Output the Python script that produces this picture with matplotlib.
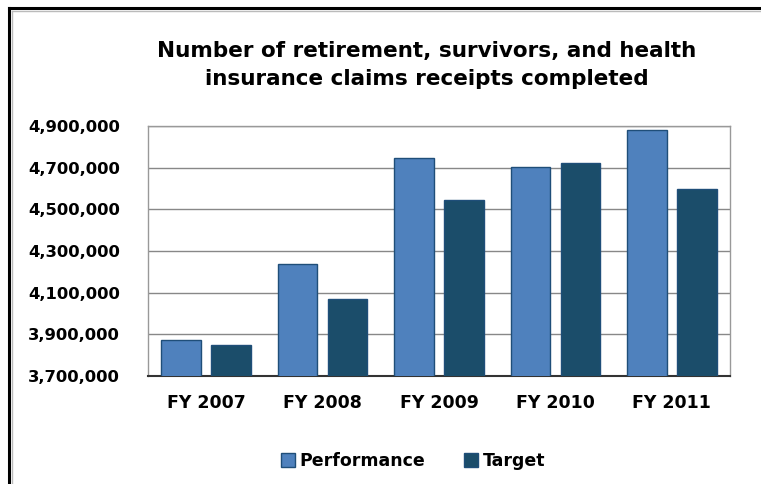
import matplotlib
matplotlib.use("Agg")
import matplotlib.pyplot as plt
import numpy as np
from matplotlib.ticker import FuncFormatter
from matplotlib.lines import Line2D

years = ["FY 2007", "FY 2008", "FY 2009", "FY 2010", "FY 2011"]
performance = [3873000, 4238000, 4745000, 4701000, 4881000]
target = [3849000, 4068000, 4545000, 4721000, 4596000]

perf_color = "#4F81BD"
target_color = "#1B4D6A"
edge = "#1F4E79"

plt.rcParams["font.family"] = ["DejaVu Sans"]

fig = plt.figure(figsize=(7.61, 4.84), dpi=100)
ax = fig.add_axes([148/761, 108/484, 582/761, 250/484])

x = np.arange(len(years))
w = 0.34
ax.bar(x - 0.215, performance, w, color=perf_color, edgecolor=edge, linewidth=1, label="Performance", zorder=3)
ax.bar(x + 0.215, target, w, color=target_color, edgecolor=edge, linewidth=1, label="Target", zorder=3)

ax.set_xlim(-0.5, len(years) - 0.5)
ax.set_ylim(3700000, 4900000)
ax.set_yticks(np.arange(3700000, 4900001, 200000))
ax.yaxis.set_major_formatter(FuncFormatter(lambda v, p: f"{int(v):,}"))
ax.set_xticks(x)
ax.set_xticklabels(years)
ax.tick_params(axis="x", length=0, labelsize=12.5)
ax.tick_params(axis="y", length=0, labelsize=11.8)
for lab in ax.get_xticklabels() + ax.get_yticklabels():
    lab.set_fontweight("bold")
ax.xaxis.set_tick_params(pad=13)
ax.yaxis.set_tick_params(pad=20)
ax.grid(axis="y", color="#888888", linewidth=1, zorder=0)

for s in ["top", "right", "left"]:
    ax.spines[s].set_color("#999999")
    ax.spines[s].set_linewidth(1)
ax.spines["bottom"].set_color("#333333")
ax.spines["bottom"].set_linewidth(1.5)

fig.text(427/761, 1 - 65/484, "Number of retirement, survivors, and health\ninsurance claims receipts completed",
         ha="center", va="center", fontsize=15.5, fontweight="heavy", linespacing=1.45)

leg = fig.legend(loc="center", bbox_to_anchor=(413/761, 1 - 461/484), ncol=2, frameon=False,
                 prop={"weight": "bold", "size": 12.5}, handlelength=0.8, handleheight=0.8,
                 handletextpad=0.3, columnspacing=2.2)

# outer frame lines (top and left)
fig.add_artist(Line2D([9/761, 1], [1 - 8/484, 1 - 8/484], color="black", linewidth=2.2, transform=fig.transFigure))
fig.add_artist(Line2D([9/761, 9/761], [0, 1 - 8/484], color="black", linewidth=2.2, transform=fig.transFigure))
fig.add_artist(Line2D([12/761, 1], [1 - 11/484, 1 - 11/484], color="#bbbbbb", linewidth=1, transform=fig.transFigure))
fig.add_artist(Line2D([12/761, 12/761], [0, 1 - 11/484], color="#bbbbbb", linewidth=1, transform=fig.transFigure))

fig.savefig("out.png", dpi=100)
